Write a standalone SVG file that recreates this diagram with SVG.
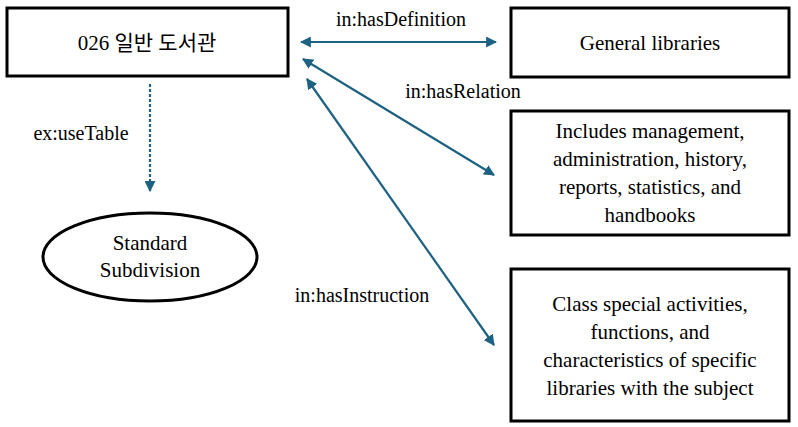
<svg xmlns="http://www.w3.org/2000/svg" width="798" height="427" viewBox="0 0 798 427">
<style>
.box{fill:#fff;stroke:#000;stroke-width:3}
.t{font-size:21px;fill:#000;text-anchor:middle}
.lbl{font-size:20px}
.c{stroke:#1d6282;stroke-width:2.2;fill:none}
</style>
<defs>
<marker id="ah" viewBox="0 0 10 10" refX="9" refY="5" markerWidth="5" markerHeight="5" orient="auto-start-reverse"><path d="M0,0 L10,5 L0,10 z" fill="#1d6282"/></marker>
</defs>
<rect width="798" height="427" fill="#fff"/>
<g font-family="Liberation Serif, Times New Roman, serif">
<g id="connectors">
<line class="c" x1="301" y1="42" x2="496" y2="42" marker-start="url(#ah)" marker-end="url(#ah)"/>
<line class="c" x1="303" y1="59" x2="494" y2="175" marker-start="url(#ah)" marker-end="url(#ah)"/>
<line class="c" x1="307" y1="79" x2="494" y2="345" marker-start="url(#ah)" marker-end="url(#ah)"/>
<line class="c" x1="150" y1="84" x2="150" y2="191" stroke-dasharray="3,2" marker-end="url(#ah)"/>
<text class="t lbl" x="401" y="26">in:hasDefinition</text>
<text class="t lbl" x="463" y="98">in:hasRelation</text>
<text class="t lbl" x="362" y="302">in:hasInstruction</text>
<text class="t lbl" x="81" y="140">ex:useTable</text>
</g>
<g id="n026"><rect class="box" x="7" y="8" width="281" height="68"/><text class="t" x="147" y="50" font-family="Liberation Serif, Noto Sans CJK KR, serif">026 일반 도서관</text></g>
<g id="ngeneral"><rect class="box" x="511" y="8" width="278" height="69"/><text class="t" x="650" y="50">General libraries</text></g>
<g id="nincludes"><rect class="box" x="511" y="111" width="278" height="124"/>
<text class="t" x="650" y="138">Includes management,</text><text class="t" x="650" y="166">administration, history,</text><text class="t" x="650" y="194">reports, statistics, and</text><text class="t" x="650" y="222">handbooks</text></g>
<g id="nclass"><rect class="box" x="511" y="269" width="278" height="152"/>
<text class="t" x="650" y="311">Class special activities,</text><text class="t" x="650" y="339">functions, and</text><text class="t" x="650" y="367">characteristics of specific</text><text class="t" x="650" y="395">libraries with the subject</text></g>
<g id="nstd"><ellipse class="box" cx="150" cy="257" rx="107" ry="44"/><text class="t" x="150" y="250">Standard</text><text class="t" x="150" y="277">Subdivision</text></g>
</g>
</svg>
